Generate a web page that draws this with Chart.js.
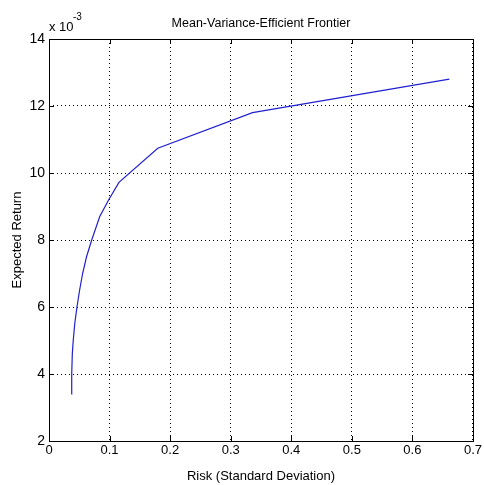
<!DOCTYPE html>
<html>
<head>
<meta charset="utf-8">
<script src="https://cdn.jsdelivr.net/npm/chart.js@4"></script>
<style>
  html, body { margin: 0; padding: 0; background: #fff; }
  #wrap { width: 484px; height: 485px; }
</style>
</head>
<body>
<div id="wrap"><canvas id="chart" width="484" height="485"></canvas></div>
<script>
// frontier points
const risk = [0.037, 0.0375, 0.0385, 0.040, 0.0425, 0.0462, 0.0505, 0.0555, 0.062, 0.0705, 0.0838, 0.0986, 0.1155, 0.1796, 0.336, 0.661];
const expReturn = [0.0034, 0.0040, 0.0046, 0.0050, 0.0055, 0.0060, 0.0065, 0.0070, 0.0075, 0.0080, 0.0087, 0.0092, 0.00972, 0.01074, 0.0118, 0.0128];

const xTicks = [0, 0.1, 0.2, 0.3, 0.4, 0.5, 0.6, 0.7];
const yTicks = [0.002, 0.004, 0.006, 0.008, 0.010, 0.012, 0.014];

const FONT = '"Liberation Sans Narrow", "Liberation Sans", Arial, sans-serif';

const points = risk.map((r, i) => ({ x: r, y: expReturn[i] }));

// box, inward ticks, title and exponent label, matlab style
const matlabBox = {
  id: 'matlabBox',
  afterDraw(chart) {
    const ctx = chart.ctx;
    const a = chart.chartArea;
    const xs = chart.scales.x, ys = chart.scales.y;
    ctx.save();
    ctx.strokeStyle = '#000';
    ctx.lineWidth = 1;
    ctx.strokeRect(Math.round(a.left) + 0.5, Math.round(a.top) + 0.5,
      Math.round(a.right - a.left), Math.round(a.bottom - a.top));
    ctx.beginPath();
    xTicks.forEach(v => {
      const px = Math.round(xs.getPixelForValue(v)) + 0.5;
      ctx.moveTo(px, a.bottom); ctx.lineTo(px, a.bottom - 5);
      ctx.moveTo(px, a.top); ctx.lineTo(px, a.top + 5);
    });
    yTicks.forEach(v => {
      const py = Math.round(ys.getPixelForValue(v)) + 0.5;
      ctx.moveTo(a.left, py); ctx.lineTo(a.left + 5, py);
      ctx.moveTo(a.right, py); ctx.lineTo(a.right - 5, py);
    });
    ctx.stroke();

    ctx.fillStyle = '#000';
    ctx.textBaseline = 'alphabetic';
    ctx.textAlign = 'center';
    ctx.font = '12.5px ' + FONT;
    ctx.fillText('Mean-Variance-Efficient Frontier', (a.left + a.right) / 2, a.top - 12);

    ctx.textAlign = 'left';
    ctx.font = '13px ' + FONT;
    ctx.fillText('x 10', a.left, a.top - 8);
    ctx.font = '10px ' + FONT;
    ctx.fillText('-3', a.left + 24, a.top - 19);
    ctx.restore();
  }
};

const ctx = document.getElementById('chart').getContext('2d');
const myChart = new Chart(ctx, {
  type: 'scatter',
  data: {
    datasets: [{
      label: 'Frontier',
      data: points,
      showLine: true,
      borderColor: '#2020d0',
      borderWidth: 1.2,
      pointRadius: 0,
      tension: 0,
      fill: false
    }]
  },
  options: {
    responsive: false,
    animation: false,
    layout: { padding: { top: 39, right: 9, left: 0, bottom: 0 } },
    plugins: {
      legend: { display: false },
      tooltip: { enabled: false }
    },
    scales: {
      x: {
        type: 'linear',
        position: 'bottom',
        min: 0,
        max: 0.7,
        afterFit: s => { s.height = 44; },
        afterBuildTicks: s => { s.ticks = xTicks.map(v => ({ value: v })); },
        ticks: {
          color: '#000',
          padding: 2,
          maxRotation: 0,
          font: { family: FONT, size: 13 },
          callback: v => String(Math.round(v * 10) / 10)
        },
        grid: { color: '#000', lineWidth: 1, tickLength: 0, drawTicks: false },
        border: { display: false, dash: [1, 3] },
        title: {
          display: true,
          text: 'Risk (Standard Deviation)',
          color: '#000',
          padding: { top: 0, bottom: 1 },
          font: { family: FONT, size: 13 }
        }
      },
      y: {
        type: 'linear',
        min: 0.002,
        max: 0.014,
        afterFit: s => { s.width = 49; },
        afterBuildTicks: s => { s.ticks = yTicks.map(v => ({ value: v })); },
        ticks: {
          color: '#000',
          padding: 4,
          font: { family: FONT, size: 14 },
          callback: v => String(Math.round(v * 1000))
        },
        grid: { color: '#000', lineWidth: 1, tickLength: 0, drawTicks: false },
        border: { display: false, dash: [1, 3] },
        title: {
          display: true,
          text: 'Expected Return',
          color: '#000',
          padding: { top: 10, bottom: 0 },
          font: { family: FONT, size: 13 }
        }
      }
    }
  },
  plugins: [matlabBox]
});
</script>
</body>
</html>
